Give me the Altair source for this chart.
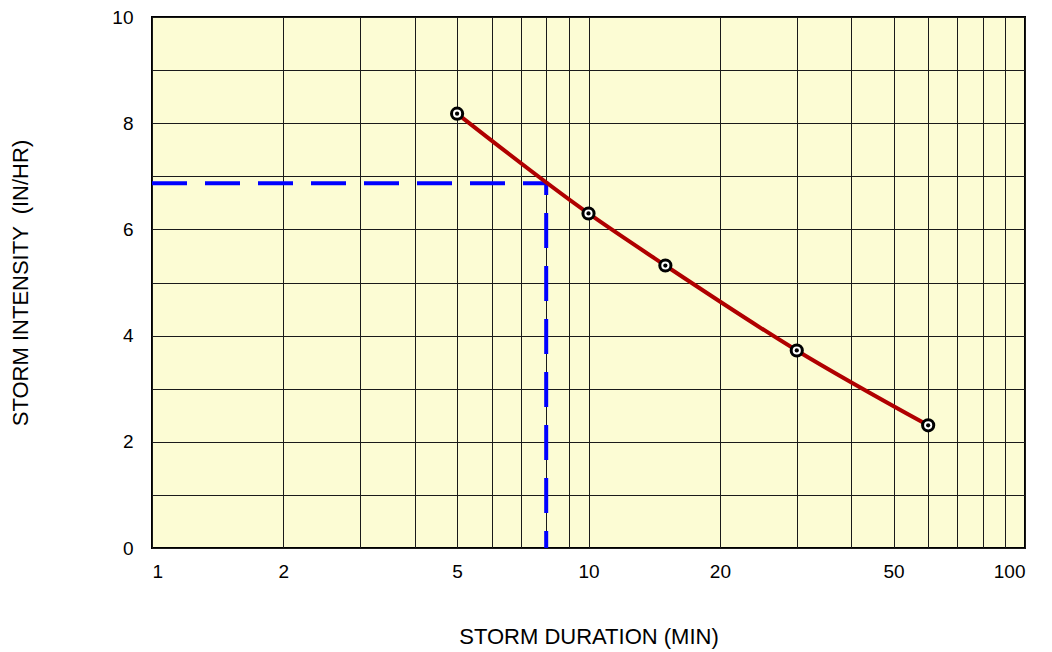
import altair as alt
import pandas as pd

# ---- data ----
durations = [5, 10, 15, 30, 60]
intensities = [8.18, 6.30, 5.32, 3.72, 2.31]

design_path_x = [1, 8, 8]
design_path_y = [6.87, 6.87, 0]

x_grid = [1, 2, 3, 4, 5, 6, 7, 8, 9, 10, 20, 30, 40, 50, 60, 70, 80, 90, 100]
x_labels = [1, 2, 5, 10, 20, 50, 100]
y_grid = [0, 1, 2, 3, 4, 5, 6, 7, 8, 9, 10]
y_labels = [0, 2, 4, 6, 8, 10]

FONT = "Liberation Sans"

curve_df = pd.DataFrame({"duration": durations, "intensity": intensities})
design_df = pd.DataFrame({
    "duration": design_path_x,
    "intensity": design_path_y,
    "order": list(range(len(design_path_x))),
})

x_label_expr = "indexof(" + str(x_labels) + ", datum.value) >= 0 ? toString(datum.value) : ''"
y_label_expr = "indexof(" + str(y_labels) + ", datum.value) >= 0 ? toString(datum.value) : ''"

X = alt.X(
    "duration:Q",
    scale=alt.Scale(type="log", domain=[1, 100], nice=False),
    axis=alt.Axis(
        title="STORM DURATION (MIN)",
        values=x_grid,
        labelExpr=x_label_expr,
        grid=True,
        ticks=False,
        domain=False,
        labelPadding=14,
        titleY=88,
        titleBaseline="middle",
    ),
)
Y = alt.Y(
    "intensity:Q",
    scale=alt.Scale(domain=[0, 10], nice=False),
    axis=alt.Axis(
        title="STORM INTENSITY \u00a0(IN/HR)",
        values=y_grid,
        labelExpr=y_label_expr,
        grid=True,
        ticks=False,
        domain=False,
        labelPadding=19,
        titleX=-132,
        titleY=265.5,
        titleAngle=-90,
        titleAlign="center",
        titleBaseline="middle",
    ),
)

design = alt.Chart(design_df).mark_line(
    color="#0000FF", strokeWidth=4, strokeDash=[35, 18], strokeJoin="miter"
).encode(x=X, y=Y, order="order:Q")

curve = alt.Chart(curve_df).mark_line(
    color="#B00000", strokeWidth=4, interpolate="monotone"
).encode(x=X, y=Y)

markers = alt.Chart(curve_df).mark_point(
    shape="circle", filled=True, fill="white", stroke="black", strokeWidth=3, size=125, opacity=1
).encode(x=X, y=Y)

dots = alt.Chart(curve_df).mark_point(
    shape="circle", filled=True, color="black", size=18, opacity=1
).encode(x=X, y=Y)

chart = alt.layer(design, curve, markers, dots).properties(
    width=873,
    height=531,
    autosize=alt.AutoSizeParams(type="none"),
    padding={"left": 144, "top": 9, "right": 19, "bottom": 104},
    background="white",
).configure_view(
    fill="#FCFCD4",
    stroke="black",
    strokeWidth=2,
).configure_axis(
    gridColor="#1a1a1a",
    gridWidth=1,
    gridOpacity=1,
    labelFont=FONT,
    labelFontSize=19,
    labelColor="black",
    titleFont=FONT,
    titleFontSize=22,
    titleFontWeight="normal",
    titleColor="black",
)

chart.save("out.html", embed_options={"renderer": "svg", "actions": False})
